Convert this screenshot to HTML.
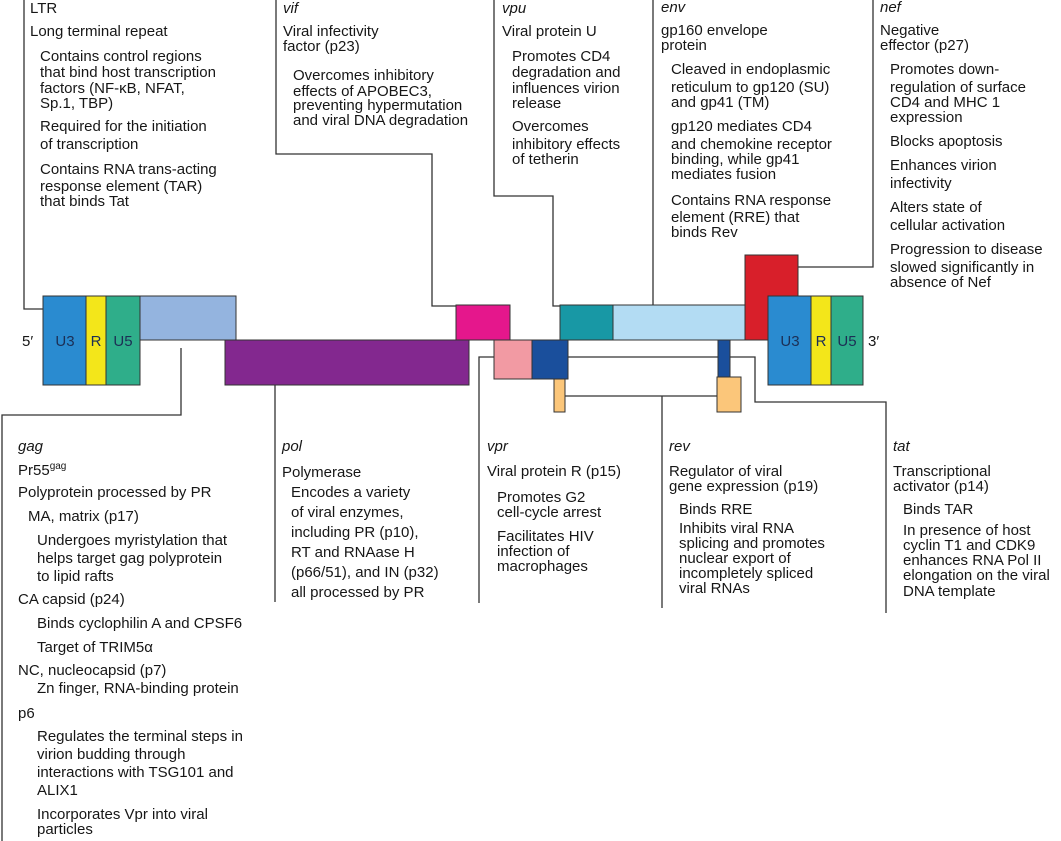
<!DOCTYPE html>
<html><head><meta charset="utf-8"><style>
html,body{margin:0;padding:0;background:#fff;width:1061px;height:841px;overflow:hidden}
svg{display:block}
text{font-family:"Liberation Sans",Arial,sans-serif;font-size:15px;fill:#161616}
.i{font-style:italic}
.b{font-size:15px;fill:#1c2f55}
</style></head><body>
<svg width="1061" height="841" viewBox="0 0 1061 841" xmlns="http://www.w3.org/2000/svg">
<g fill="none" stroke="#333" stroke-width="1.3">
<path d="M24,0V309H43"/>
<path d="M276,0V154H432V306H456"/>
<path d="M494,0V196H553V306H560"/>
<path d="M653,0V305"/>
<path d="M873,0V267H797"/>
<path d="M181,348V415H2V841"/>
<path d="M275,385V602"/>
<path d="M494,357H479V603"/>
<path d="M565,396H717M662,396V608"/>
<path d="M568,357H755V402H886V613"/>
</g>
<g stroke="#333" stroke-width="1">
<rect x="43" y="296" width="43" height="89" fill="#2a8bd0"/>
<rect x="86" y="296" width="20" height="89" fill="#f3e61a"/>
<rect x="106" y="296" width="34" height="89" fill="#2fae8a"/>
<rect x="140" y="296" width="96" height="44" fill="#94b4df"/>
<rect x="225" y="340" width="244" height="45" fill="#83288f"/>
<rect x="456" y="305" width="54" height="35" fill="#e5178c"/>
<rect x="494" y="340" width="38" height="39" fill="#f29aa3"/>
<rect x="532" y="340" width="36" height="39" fill="#1a4f9c"/>
<rect x="560" y="305" width="53" height="35" fill="#1898a5"/>
<rect x="613" y="305" width="132" height="35" fill="#b3dcf3"/>
<rect x="745" y="255" width="53" height="85" fill="#d81f2a"/>
<rect x="768" y="296" width="43" height="89" fill="#2a8bd0"/>
<rect x="811" y="296" width="20" height="89" fill="#f3e61a"/>
<rect x="831" y="296" width="32" height="89" fill="#2fae8a"/>
<rect x="718" y="340" width="12" height="37" fill="#1a4f9c"/>
<rect x="554" y="379" width="11" height="33" fill="#fbc67a"/>
<rect x="717" y="377" width="24" height="35" fill="#fbc67a"/>
</g>
<text x="22" y="346">5′</text>
<text class="b" x="65" y="346" text-anchor="middle">U3</text>
<text class="b" x="96" y="346" text-anchor="middle">R</text>
<text class="b" x="123" y="346" text-anchor="middle">U5</text>
<text class="b" x="790" y="346" text-anchor="middle">U3</text>
<text class="b" x="821" y="346" text-anchor="middle">R</text>
<text class="b" x="847" y="346" text-anchor="middle">U5</text>
<text x="868" y="346">3′</text>

<!-- LTR -->
<text x="30" y="13">LTR</text>
<text x="30" y="36">Long terminal repeat</text>
<text x="40" y="61">Contains control regions</text>
<text x="40" y="77">that bind host transcription</text>
<text x="40" y="93">factors (NF-κB, NFAT,</text>
<text x="40" y="108">Sp.1, TBP)</text>
<text x="40" y="131">Required for the initiation</text>
<text x="40" y="149">of transcription</text>
<text x="40" y="174">Contains RNA trans-acting</text>
<text x="40" y="191">response element (TAR)</text>
<text x="40" y="206">that binds Tat</text>

<!-- vif -->
<text class="i" x="283" y="13">vif</text>
<text x="283" y="36">Viral infectivity</text>
<text x="283" y="51">factor (p23)</text>
<text x="293" y="80">Overcomes inhibitory</text>
<text x="293" y="96">effects of APOBEC3,</text>
<text x="293" y="110">preventing hypermutation</text>
<text x="293" y="125">and viral DNA degradation</text>

<!-- vpu -->
<text class="i" x="502" y="13">vpu</text>
<text x="502" y="36">Viral protein U</text>
<text x="512" y="61">Promotes CD4</text>
<text x="512" y="77">degradation and</text>
<text x="512" y="93">influences virion</text>
<text x="512" y="108">release</text>
<text x="512" y="131">Overcomes</text>
<text x="512" y="149">inhibitory effects</text>
<text x="512" y="164">of tetherin</text>

<!-- env -->
<text class="i" x="661" y="12">env</text>
<text x="661" y="35">gp160 envelope</text>
<text x="661" y="50">protein</text>
<text x="671" y="74">Cleaved in endoplasmic</text>
<text x="671" y="92">reticulum to gp120 (SU)</text>
<text x="671" y="107">and gp41 (TM)</text>
<text x="671" y="131">gp120 mediates CD4</text>
<text x="671" y="149">and chemokine receptor</text>
<text x="671" y="164">binding, while gp41</text>
<text x="671" y="179">mediates fusion</text>
<text x="671" y="205">Contains RNA response</text>
<text x="671" y="222">element (RRE) that</text>
<text x="671" y="237">binds Rev</text>

<!-- nef -->
<text class="i" x="880" y="12">nef</text>
<text x="880" y="35">Negative</text>
<text x="880" y="50">effector (p27)</text>
<text x="890" y="74">Promotes down-</text>
<text x="890" y="92">regulation of surface</text>
<text x="890" y="107">CD4 and MHC 1</text>
<text x="890" y="122">expression</text>
<text x="890" y="146">Blocks apoptosis</text>
<text x="890" y="170">Enhances virion</text>
<text x="890" y="188">infectivity</text>
<text x="890" y="212">Alters state of</text>
<text x="890" y="230">cellular activation</text>
<text x="890" y="254">Progression to disease</text>
<text x="890" y="272">slowed significantly in</text>
<text x="890" y="287">absence of Nef</text>

<!-- gag -->
<text class="i" x="18" y="451">gag</text>
<text x="18" y="475">Pr55<tspan font-size="10" dy="-6">gag</tspan></text>
<text x="18" y="497">Polyprotein processed by PR</text>
<text x="28" y="521">MA, matrix (p17)</text>
<text x="37" y="545">Undergoes myristylation that</text>
<text x="37" y="563">helps target gag polyprotein</text>
<text x="37" y="581">to lipid rafts</text>
<text x="18" y="604">CA capsid (p24)</text>
<text x="37" y="628">Binds cyclophilin A and CPSF6</text>
<text x="37" y="652">Target of TRIM5α</text>
<text x="18" y="675">NC, nucleocapsid (p7)</text>
<text x="37" y="693">Zn finger, RNA-binding protein</text>
<text x="18" y="718">p6</text>
<text x="37" y="741">Regulates the terminal steps in</text>
<text x="37" y="759">virion budding through</text>
<text x="37" y="777">interactions with TSG101 and</text>
<text x="37" y="795">ALIX1</text>
<text x="37" y="819">Incorporates Vpr into viral</text>
<text x="37" y="834">particles</text>

<!-- pol -->
<text class="i" x="282" y="451">pol</text>
<text x="282" y="477">Polymerase</text>
<text x="291" y="497">Encodes a variety</text>
<text x="291" y="517">of viral enzymes,</text>
<text x="291" y="537">including PR (p10),</text>
<text x="291" y="557">RT and RNAase H</text>
<text x="291" y="577">(p66/51), and IN (p32)</text>
<text x="291" y="597">all processed by PR</text>

<!-- vpr -->
<text class="i" x="487" y="451">vpr</text>
<text x="487" y="476">Viral protein R (p15)</text>
<text x="497" y="502">Promotes G2</text>
<text x="497" y="517">cell-cycle arrest</text>
<text x="497" y="541">Facilitates HIV</text>
<text x="497" y="556">infection of</text>
<text x="497" y="571">macrophages</text>

<!-- rev -->
<text class="i" x="669" y="451">rev</text>
<text x="669" y="476">Regulator of viral</text>
<text x="669" y="491">gene expression (p19)</text>
<text x="679" y="514">Binds RRE</text>
<text x="679" y="533">Inhibits viral RNA</text>
<text x="679" y="548">splicing and promotes</text>
<text x="679" y="563">nuclear export of</text>
<text x="679" y="578">incompletely spliced</text>
<text x="679" y="593">viral RNAs</text>

<!-- tat -->
<text class="i" x="893" y="451">tat</text>
<text x="893" y="476">Transcriptional</text>
<text x="893" y="491">activator (p14)</text>
<text x="903" y="514">Binds TAR</text>
<text x="903" y="535">In presence of host</text>
<text x="903" y="550">cyclin T1 and CDK9</text>
<text x="903" y="565">enhances RNA Pol II</text>
<text x="903" y="580">elongation on the viral</text>
<text x="903" y="596">DNA template</text>
</svg>
</body></html>
